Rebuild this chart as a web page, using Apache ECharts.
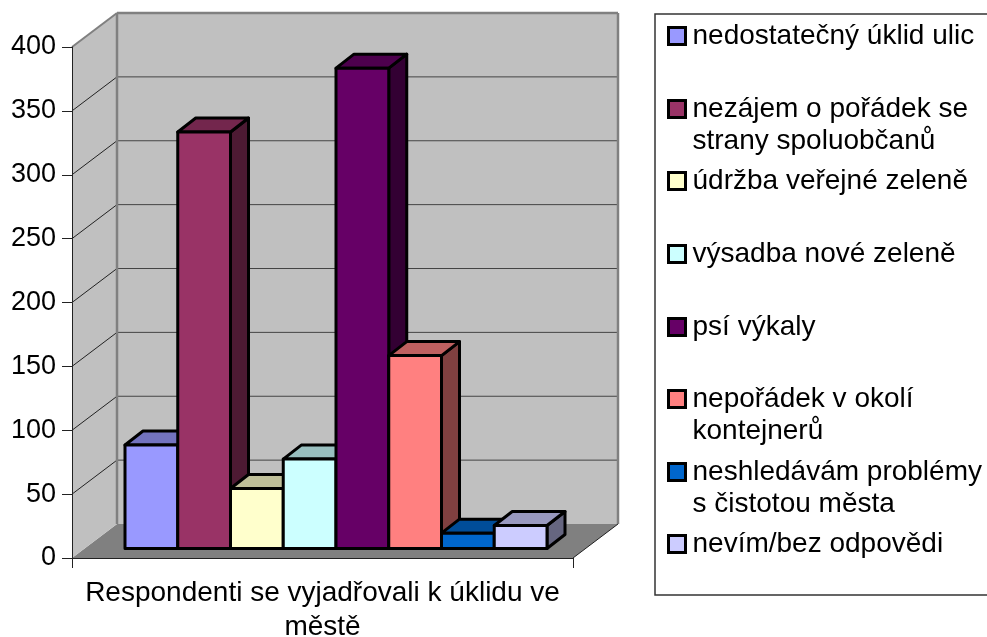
<!DOCTYPE html>
<html><head><meta charset="utf-8">
<style>html,body{margin:0;padding:0;background:#fff}#c{width:987px;height:637px}</style>
<script src="https://cdn.jsdelivr.net/npm/echarts@6/dist/echarts.min.js"></script>
</head><body><div id="c"></div>
<script>
const categories = ['Respondenti se vyjadřovali k úklidu ve\nměstě'];
const seriesNames = ['nedostatečný úklid ulic','nezájem o pořádek se\nstrany spoluobčanů','údržba veřejné zeleně','výsadba nové zeleně','psí výkaly','nepořádek v okolí\nkontejnerů','neshledávám problémy\ns čistotou města','nevím/bez odpovědi'];
const seriesValues = [81,326,47,70,376,151,12,18];
const seriesColors = ['#9999FF','#993366','#FFFFCC','#CCFFFF','#660066','#FF8080','#0066CC','#CCCCFF'];
const yTicks = [0,50,100,150,200,250,300,350,400];

const FONT = '"Liberation Sans", Arial, sans-serif';
const FS = 28, LH = 32;
const wallDX = 45, wallDY = 34;
const barShiftX = 13.5, barShiftY = 9.5, barDX = 18, barDY = 14;
const barsFraction = 422/501;

function shade(hex,f){
  const n=parseInt(hex.slice(1),16);
  const c=[(n>>16)&255,(n>>8)&255,n&255].map(v=>Math.round(v*f));
  return 'rgb('+c.join(',')+')';
}
function poly(points,fill,stroke,lw){
  return {type:'polygon',shape:{points},style:{fill,stroke:stroke||null,lineWidth:lw||0,lineJoin:'round'}};
}
function line(a,b,stroke,lw){
  return {type:'line',shape:{x1:a[0],y1:a[1],x2:b[0],y2:b[1]},style:{stroke,lineWidth:lw,fill:null}};
}
function renderWalls(params,api){
  const cs=params.coordSys, L=cs.x, R=cs.x+cs.width;
  const y0=api.coord([0,0])[1], yT=api.coord([0,400])[1];
  const ch=[];
  ch.push(poly([[L,y0],[L+wallDX,y0-wallDY],[R+wallDX,y0-wallDY],[R,y0]],'#808080'));
  ch.push(poly([[L,y0],[L,yT],[L+wallDX,yT-wallDY],[L+wallDX,y0-wallDY]],'#C0C0C0'));
  ch.push(poly([[L+wallDX,y0-wallDY],[L+wallDX,yT-wallDY],[R+wallDX,yT-wallDY],[R+wallDX,y0-wallDY]],'#C0C0C0'));
  yTicks.forEach(t=>{
    if(t===0||t===400) return;
    const y=api.coord([0,t])[1];
    ch.push(line([L,y],[L+wallDX,y-wallDY],'#222',1));
    ch.push(line([L+wallDX,y-wallDY],[R+wallDX,y-wallDY],'#444',1));
  });
  ch.push(line([L,yT],[L+wallDX,yT-wallDY],'#808080',2));
  ch.push(line([L+wallDX,yT-wallDY],[R+wallDX,yT-wallDY],'#808080',2.5));
  ch.push(line([L+wallDX,yT-wallDY],[L+wallDX,y0-wallDY],'#808080',2.5));
  ch.push(line([R+wallDX,yT-wallDY],[R+wallDX,y0-wallDY],'#808080',2.5));
  ch.push(line([R,y0],[R+wallDX,y0-wallDY],'#222',1));
  return {type:'group',children:ch};
}
function renderBar(idx){
  return function(params,api){
    const w=api.size([1,0])[0]*barsFraction/seriesValues.length;
    const cx=api.coord([0,0])[0];
    const x0=cx-w*seriesValues.length/2+idx*w+barShiftX, x1=x0+w;
    const yb=api.coord([0,0])[1]-barShiftY;
    const yt=api.coord([0,api.value(1)])[1]-barShiftY;
    const col=seriesColors[idx], k='#000', lw=3;
    return {type:'group',children:[
      poly([[x1,yb],[x1,yt],[x1+barDX,yt-barDY],[x1+barDX,yb-barDY]],shade(col,.5),k,lw),
      poly([[x0,yt],[x0+barDX,yt-barDY],[x1+barDX,yt-barDY],[x1,yt]],shade(col,.75),k,lw),
      poly([[x0,yb],[x0,yt],[x1,yt],[x1,yb]],col,k,lw)
    ]};
  };
}
const symbolY=[36,109,181,254,327,399,472,544];
const legends=seriesNames.map((n,i)=>{
  const two=n.includes('\n');
  const h=two?LH*3:LH;
  return {
    left:667, top:symbolY[i]-h/2, padding:0, orient:'vertical', selectedMode:false,
    itemWidth:17,itemHeight:17,
    data:[{name:n,icon:'rect',itemStyle:{color:seriesColors[i],borderColor:'#000',borderWidth:3}}],
    formatter:v=>two?'\n'+v:v,
    textStyle:{fontFamily:FONT,fontSize:FS,lineHeight:LH,color:'#000',padding:[0,0,0,2]}
  };
});
const chart=echarts.init(document.getElementById('c'),null,{renderer:'canvas'});
chart.setOption({
  animation:false,
  backgroundColor:'#fff',
  grid:{left:72,top:47,width:501,height:511,containLabel:false,outerBoundsMode:'none'},
  xAxis:{type:'category',data:categories,z:5,
    axisLine:{show:true,lineStyle:{color:'#222',width:1}},
    axisTick:{show:true,length:10,alignWithLabel:false,lineStyle:{color:'#222',width:1}},
    axisLabel:{fontFamily:FONT,fontSize:FS,lineHeight:34,color:'#000',margin:18,interval:0}},
  yAxis:{type:'value',min:0,max:400,interval:50,z:5,
    axisLine:{show:true,onZero:false,lineStyle:{color:'#222',width:1}},
    axisTick:{show:true,length:10,lineStyle:{color:'#222',width:1}},
    splitLine:{show:false},
    axisLabel:{fontFamily:FONT,fontSize:27,color:'#000',margin:16}},
  legend:legends,
  graphic:[{type:'rect',silent:true,z:0,shape:{x:655,y:14,width:345,height:581},style:{fill:'#fff',stroke:'#333',lineWidth:1.5}}],
  series:[
    {type:'custom',name:'_walls',z:1,clip:false,silent:true,renderItem:renderWalls,data:[[0,0]],encode:{x:0,y:1}}
  ].concat(seriesNames.map((n,i)=>({
    type:'custom',name:n,z:2+i/10,clip:false,silent:true,color:seriesColors[i],
    renderItem:renderBar(i),data:[[0,seriesValues[i]]],encode:{x:0,y:1}
  })))
});
</script></body></html>
